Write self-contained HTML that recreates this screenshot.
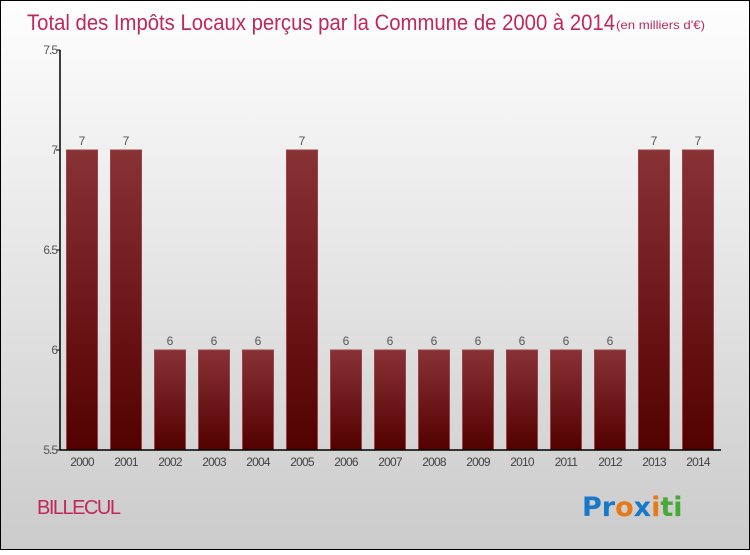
<!DOCTYPE html>
<html><head><meta charset="utf-8"><style>
body{margin:0;width:750px;height:550px;overflow:hidden;font-family:"Liberation Sans","DejaVu Sans",sans-serif}
</style></head><body>
<svg width="750" height="550" xmlns="http://www.w3.org/2000/svg">
<defs>
<linearGradient id="bg" x1="0" y1="0" x2="0" y2="1"><stop offset="0" stop-color="#fefefe"/><stop offset="1" stop-color="#cbcbcb"/></linearGradient>
<linearGradient id="bar" x1="0" y1="0" x2="0" y2="1"><stop offset="0" stop-color="#883236"/><stop offset="1" stop-color="#530000"/></linearGradient>
</defs>
<rect x="0.5" y="0.5" width="749" height="549" fill="url(#bg)" stroke="#000"/>
<text x="27" y="30" font-size="22" fill="#c0285a" textLength="588" lengthAdjust="spacingAndGlyphs">Total des Impôts Locaux perçus par la Commune de 2000 à 2014</text>
<text x="616" y="29" font-size="12" fill="#c0285a" textLength="89" lengthAdjust="spacingAndGlyphs">(en milliers d'€)</text>
<g id="plot"></g>
<text x="37" y="514" font-size="20" fill="#c0285a" style="letter-spacing:-1.5px">BILLECUL</text>
<text x="582" y="516" font-size="27" font-weight="bold" font-family="'DejaVu Sans',sans-serif"><tspan fill="#1a78c8">Pr</tspan><tspan fill="#e87818">o</tspan><tspan fill="#1a78c8">x</tspan><tspan fill="#e87818">i</tspan><tspan fill="#48a838">ti</tspan></text>
</svg>
<script>
const categories=["2000","2001","2002","2003","2004","2005","2006","2007","2008","2009","2010","2011","2012","2013","2014"];
const values=[7,7,6,6,6,7,6,6,6,6,6,6,6,7,7];
const labels=["7","7","6","6","6","7","6","6","6","6","6","6","6","7","7"];
const yTicks=[5.5,6,6.5,7,7.5];
const yTickLabels=["5.5","6","6.5","7","7.5"];
(function(){
const NS="http://www.w3.org/2000/svg";
const g=document.getElementById('plot');
const yMin=5.5,yMax=7.5,pTop=50,pBot=450,pLeft=60,pRight=721;
const y=v=>pBot-(v-yMin)/(yMax-yMin)*(pBot-pTop);
const step=44,x0=82,bw=31;
const x=i=>x0+i*step;
function el(t,a){const e=document.createElementNS(NS,t);for(const k in a)e.setAttribute(k,a[k]);g.appendChild(e);return e;}
values.forEach((v,i)=>{
 const r=el('rect',{x:x(i)-bw/2,y:y(v),width:bw,height:pBot-y(v),fill:'url(#bar)',stroke:'#9a4448','stroke-width':1});
 
 
 const t=el('text',{x:x(i),y:y(v)-5,'text-anchor':'middle','font-size':12,fill:'#555'});t.textContent=labels[i];
 
 
 const c=el('text',{x:x(i),y:pBot+16,'text-anchor':'middle','font-size':12,fill:'#444',style:'letter-spacing:-0.8px'});c.textContent=categories[i];
 
 
});
yTicks.forEach((v,i)=>{
 el('line',{x1:pLeft-4,x2:pLeft,y1:y(v),y2:y(v),stroke:'#000'});
 const t=el('text',{x:pLeft-3,y:y(v)+4,'text-anchor':'end','font-size':12,fill:'#555',style:'letter-spacing:-1px'});t.textContent=yTickLabels[i];
 
 
});
const ya=el('line',{x1:pLeft,x2:pLeft,y1:pTop,y2:pBot,stroke:'#000','stroke-width':1.5});


const xa=el('line',{x1:pLeft,x2:pRight,y1:pBot,y2:pBot,stroke:'#000','stroke-width':1.5});


})();
</script>
</body></html>
